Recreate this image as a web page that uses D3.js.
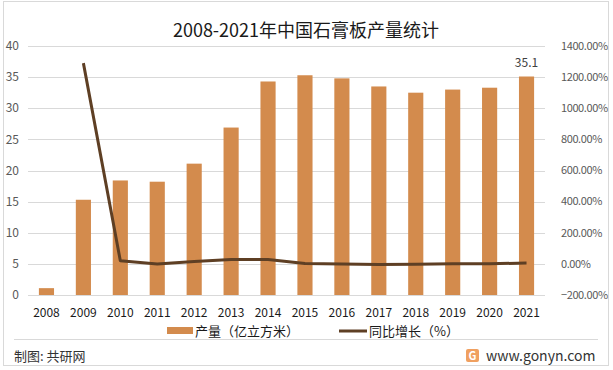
<!DOCTYPE html>
<html>
<head>
<meta charset="utf-8">
<script src="https://cdn.jsdelivr.net/npm/d3@7"></script>
<style>
body { margin: 0; background: #fff; }
text { font-family: "Noto Sans CJK SC", "Noto Sans", sans-serif; }
</style>
</head>
<body>
<div id="chart-area"></div>
<script>
var years = ["2008", "2009", "2010", "2011", "2012", "2013", "2014", "2015", "2016", "2017", "2018", "2019", "2020", "2021"];
var output = [1.1, 15.3, 18.4, 18.2, 21.1, 26.9, 34.3, 35.3, 34.8, 33.5, 32.5, 33.0, 33.3, 35.1];
var growth = [null, 1290, 20.3, -1.1, 15.9, 27.5, 27.5, 2.9, -1.4, -3.7, -3.0, 1.5, 0.9, 5.4];
var leftTicks = [0, 5, 10, 15, 20, 25, 30, 35, 40];
var rightTicks = [-200, 0, 200, 400, 600, 800, 1000, 1200, 1400];

var svg = d3.select("#chart-area").append("svg").attr("width", 613).attr("height", 370);
var margin = {left: 28, right: 68, top: 46, bottom: 75};
var width = 613 - margin.left - margin.right;
var height = 370 - margin.top - margin.bottom;

// frame
svg.append("rect").attr("x", 3.5).attr("y", 1.5).attr("width", 605).attr("height", 364)
	.attr("fill", "none").attr("stroke", "#d9d9d9");
svg.append("line").attr("x1", 14).attr("x2", 598).attr("y1", 339.5).attr("y2", 339.5)
	.attr("stroke", "#d9d9d9");

var x = d3.scaleBand().domain(years).range([0, width]).paddingInner(0.59).paddingOuter(0.295);
var y = d3.scaleLinear().domain([0, 40]).range([height, 0]);
var y2 = d3.scaleLinear().domain([-200, 1400]).range([height, 0]);

var g = svg.append("g")
	.attr("transform", "translate(" + margin.left + ", " + margin.top + ")");

// gridlines
g.selectAll(".grid").data(leftTicks).enter().append("line")
	.attr("x1", 0).attr("x2", width)
	.attr("y1", d => Math.round(y(d)) + 0.5).attr("y2", d => Math.round(y(d)) + 0.5)
	.attr("stroke", "#d9d9d9");

// left axis labels
g.selectAll(".ly").data(leftTicks).enter().append("text")
	.attr("x", -9).attr("y", d => y(d)).attr("dy", "0.35em")
	.attr("text-anchor", "end").attr("font-size", "12px").attr("fill", "#595959")
	.text(d => d);

// right axis labels
g.selectAll(".ry").data(rightTicks).enter().append("text")
	.attr("x", width + 16).attr("y", d => y2(d)).attr("dy", "0.35em")
	.attr("text-anchor", "start").attr("font-size", "11px").attr("fill", "#595959")
	.attr("font-family", "Roboto, sans-serif").attr("letter-spacing", "-0.4px")
	.text(d => d3.format(".2f")(d) + "%");

// bars
g.selectAll("rect.bar").data(output).enter().append("rect")
	.attr("class", "bar")
	.attr("x", (d, i) => x(years[i]))
	.attr("y", d => y(d))
	.attr("width", x.bandwidth())
	.attr("height", d => height - y(d))
	.attr("fill", "#d38b4d");

// growth line
var line = d3.line()
	.defined(d => d[1] != null)
	.x(d => x(d[0]) + x.bandwidth() / 2)
	.y(d => y2(d[1]));
g.append("path")
	.datum(years.map((d, i) => [d, growth[i]]))
	.attr("d", line)
	.attr("fill", "none")
	.attr("stroke", "#5e3f24")
	.attr("stroke-width", 3)
	.attr("stroke-linejoin", "round");

// data label
g.append("text")
	.attr("x", x("2021") + x.bandwidth() / 2)
	.attr("y", y(35.1) - 10)
	.attr("text-anchor", "middle").attr("font-size", "12px").attr("fill", "#404040")
	.text("35.1");

// x labels
g.selectAll(".xl").data(years).enter().append("text")
	.attr("x", d => x(d) + x.bandwidth() / 2)
	.attr("y", height + 18)
	.attr("dy", "0.35em")
	.attr("text-anchor", "middle").attr("font-size", "12px").attr("fill", "#1a1a1a")
	.text(d => d);

// title
svg.append("text")
	.attr("x", 306).attr("y", 31).attr("dy", "0.35em")
	.attr("text-anchor", "middle").attr("font-size", "18px").attr("fill", "#1a1a1a")
	.text("2008-2021年中国石膏板产量统计");

// legend
svg.append("rect").attr("x", 167).attr("y", 327).attr("width", 26).attr("height", 7).attr("fill", "#d38b4d");
svg.append("text").attr("x", 195).attr("y", 331).attr("dy", "0.35em")
	.attr("font-size", "13px").attr("fill", "#1a1a1a").text("产量（亿立方米）");
svg.append("line").attr("x1", 339).attr("x2", 367).attr("y1", 331).attr("y2", 331)
	.attr("stroke", "#5e3f24").attr("stroke-width", 3);
svg.append("text").attr("x", 369).attr("y", 331).attr("dy", "0.35em")
	.attr("font-size", "13px").attr("fill", "#1a1a1a").text("同比增长（%）");

// footer
svg.append("text").attr("x", 14).attr("y", 356).attr("dy", "0.35em")
	.attr("font-size", "13px").attr("fill", "#333").text("制图: 共研网");
var logo = svg.append("g").attr("transform", "translate(466, 349)");
logo.append("rect").attr("width", 13).attr("height", 13).attr("rx", 2).attr("fill", "#f0a060");
logo.append("text").attr("x", 6.5).attr("y", 10.5).attr("text-anchor", "middle")
	.attr("font-size", "11px").attr("font-weight", "bold").attr("fill", "#fff").text("G");
svg.append("text").attr("x", 486).attr("y", 356).attr("dy", "0.35em")
	.attr("font-size", "14px").attr("fill", "#333").attr("font-family", "Liberation Sans, Arial, sans-serif")
	.text("www.gonyn.com");
</script>
</body>
</html>
